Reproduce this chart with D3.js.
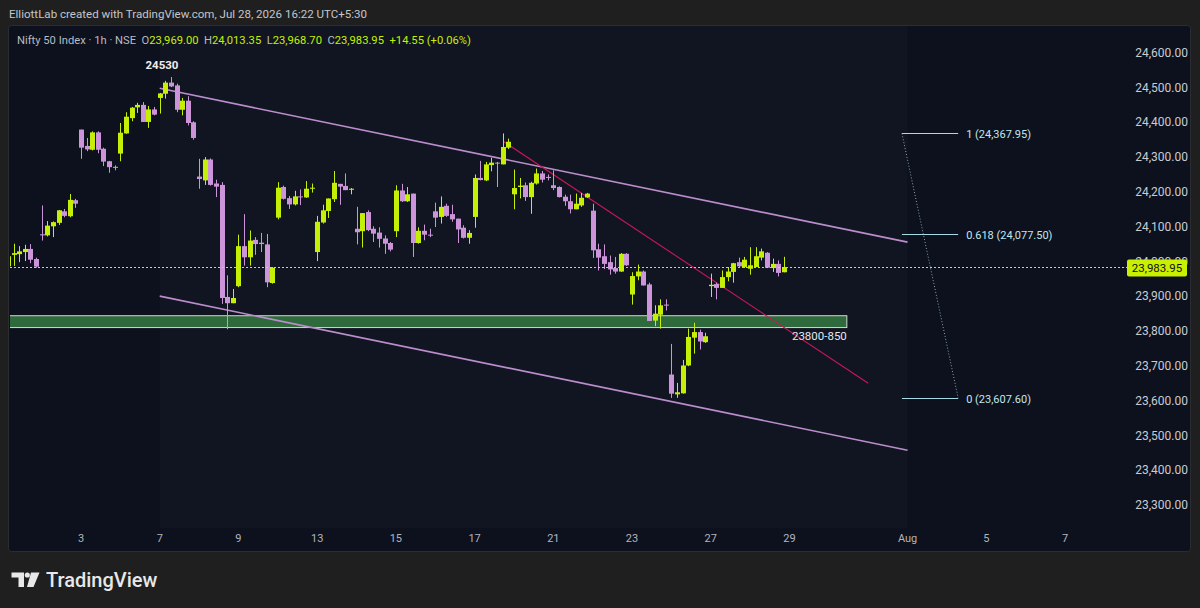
<!DOCTYPE html>
<html><head><meta charset="utf-8">
<script src="https://cdn.jsdelivr.net/npm/d3@7"></script>
<style>html,body{margin:0;padding:0;background:#1f1f1f;overflow:hidden}</style>
</head><body><svg id="c" width="1200" height="608"></svg>
<script>
// ---------- data ----------
const tradingDays = ["Jul 1","Jul 2","Jul 3","Jul 6","Jul 7","Jul 8","Jul 9","Jul 10","Jul 13","Jul 14","Jul 15","Jul 16","Jul 17","Jul 20","Jul 21","Jul 22","Jul 23","Jul 24","Jul 27","Jul 28","Jul 29","Jul 30","Jul 31","Aug 3","Aug 4","Aug 5","Aug 6","Aug 7"];
const barsPerDay = 7;
const tickDayIdx = [2,4,6,8,10,12,14,16,18,20,23,25,27];
const tickLabels = ["3","7","9","13","15","17","21","23","27","29","Aug","5","7"];
const firstBar = 1; // Jul 1, 10:15 bar
const opens = [
 23986,24019,24021,24027,24036,24007,
 24078,24075,24101,24111,24144,24130,24176,
 24379,24332,24321,24371,24324,24288,24272,
 24310,24368,24412,24443,24450,24401,24437,
 24470,24482,24514,24506,24436,24462,24400,
 24244,24233,24293,24224,24220,23898,23880,
 23929,24044,24012,24062,24054,24049,23938,
 24126,24214,24182,24164,24187,24184,24209,
 24027,24112,24145,24179,24223,24217,24206,
 24094,24087,24142,24094,24083,24066,24053,
 24087,24204,24173,24195,24053,24088,24077,
 24144,24128,24160,24136,24123,24097,24068,
 24128,24240,24233,24277,24284,24279,24327,
 24193,24214,24219,24185,24224,24253,24243,
 24219,24214,24186,24173,24150,24161,24184,
 24146,24035,24015,23998,23981,23971,24022,
 23905,23957,23971,23934,23830,23847,23876,
 23675,23618,23621,23701,23781,23797,23768,
 23929,23935,23924,23955,23970,23998,23984,
 23979,23984,24011,24025,23981,23993,23969];
const highs = [
 24020,24051,24044,24048,24050,24011,
 24161,24116,24115,24148,24151,24194,24180,
 24379,24355,24374,24374,24327,24289,24276,
 24398,24429,24444,24456,24458,24447,24444,
 24484,24519,24530,24511,24470,24475,24403,
 24295,24300,24296,24235,24228,23960,23921,
 24077,24136,24089,24070,24082,24079,23984,
 24228,24218,24188,24203,24207,24231,24224,
 24131,24163,24181,24260,24223,24253,24211,
 24157,24139,24147,24101,24098,24075,24056,
 24219,24223,24214,24195,24098,24106,24094,
 24169,24187,24166,24163,24123,24104,24090,
 24250,24289,24286,24298,24286,24367.95,24353,
 24264,24240,24227,24229,24267,24260,24250,
 24262,24216,24192,24192,24195,24197,24197,
 24166,24051,24049,24017,24013,24024,24024,
 23969,23991,23974,23939,23874,23891,23891,
 23763,23651,23717,23807,23824,23804,23795,
 23965,23939,23974,23984,23996,24011,24013,
 24041,24041,24037,24027,24008,24003,24013.35];
const lows = [
 23984,23987,23998,24001,23995,23982,
 24060,24072,24070,24105,24127,24127,24154,
 24295,24317,24319,24311,24274,24255,24262,
 24288,24367,24403,24427,24401,24384,24420,
 24425,24468,24501,24429,24420,24391,24350,
 24209,24220,24218,24185,23878,23805,23880,
 23926,23988,23988,24019,24027,23926,23936,
 24121,24178,24151,24161,24162,24183,24198,
 24001,24109,24125,24171,24163,24205,24193,
 24049,24040,24087,24056,24040,24022,24029,
 24070,24171,24171,24013,24051,24061,24070,
 24099,24109,24128,24114,24053,24066,24051,
 24097,24233,24231,24259,24214,24279,24323,
 24150,24181,24174,24137,24221,24227,24233,
 24205,24184,24160,24138,24150,24157,24183,
 24010,23974,23978,23962,23965,23970,23987,
 23876,23946,23931,23829,23814,23807,23859,
 23607.6,23608,23620,23699,23735,23747,23766,
 23898,23891,23924,23943,23939,23984,23981,
 23962,23984,24003,23981,23970,23957,23968.70];
const closes = [
 24015,24024,24029,24036,24005,23985,
 24075,24103,24113,24147,24131,24177,24166,
 24327,24322,24371,24321,24287,24271,24269,
 24370,24416,24442,24450,24401,24437,24422,
 24483,24514,24503,24436,24462,24398,24355,
 24237,24293,24220,24215,23895,23880,23895,
 24044,24012,24060,24050,24050,23940,23982,
 24212,24180,24164,24187,24185,24209,24212,
 24114,24147,24181,24226,24215,24205,24209,
 24084,24139,24090,24080,24065,24051,24034,
 24204,24173,24193,24053,24088,24077,24075,
 24126,24157,24131,24121,24092,24068,24082,
 24240,24234,24279,24284,24282,24329,24344,
 24211,24218,24185,24226,24253,24235,24240,
 24211,24185,24173,24150,24166,24183,24195,
 24032,24011,23993,23977,23971,24022,23989,
 23958,23971,23931,23829,23850,23874,23873,
 23620,23624,23701,23783,23797,23770,23785,
 23933,23924,23955,23971,23995,23986,24005,
 23989,24015,24029,23982,23993,23967,23983.95];
const priceTicks = d3.range(23300, 24601, 100);
const lastPrice = 23983.95;
const upperChannel = [[28, 24497.6], [161, 24055.6]];
const lowerChannel = [[28, 23900.3], [161, 23457.3]];
const redTrend = [[89.2, 24344], [154.0, 23650]];
const zoneLow = 23810, zoneHigh = 23844, zoneEnd = 150.2, zoneLabel = "23800-850";
const fibHigh = 24367.95, fibLow = 23607.6, fibLevels = [1, 0.618, 0], fibX = [160.0, 170.0];
const peakLabel = "24530", peakPrice = 24530, peakBar = 28.4;
const header1 = "ElliottLab created with TradingView.com, Jul 28, 2026 16:22 UTC+5:30";
const header2 = [["Nifty 50 Index · 1h · NSE  ", 0], ["O", 0], ["23,969.00  ", 1], ["H", 0], ["24,013.35  ", 1], ["L", 0], ["23,968.70  ", 1], ["C", 0], ["23,983.95  ", 1], ["+14.55 (+0.06%)", 1]];

// ---------- drawing ----------
const svg = d3.select("#c");
const W = 1200, H = 608;
const plotL = 10, plotR = 1125, plotT = 26, plotB = 528;
const x = d3.scaleLinear().domain([14, 189]).range([81, 1065]);
const y = d3.scaleLinear().domain([23300, 24600]).range([505, 52.7]);
const UP = "#c6ef08", DOWN = "#cc95d9", TXT = "#b8bbc4", LIME = "#c8f000";
const FONT = "Roboto, 'Noto Sans', sans-serif";

svg.append("rect").attr("width", W).attr("height", H).attr("fill", "#1f1f1f");
svg.append("rect").attr("x", 8.5).attr("y", 25.5).attr("width", 1182).attr("height", 526)
  .attr("rx", 3).attr("fill", "#0c111d").attr("stroke", "#2b2d33");
// subtle highlighted region
svg.append("rect").attr("x", x(28)).attr("y", plotT).attr("width", x(161) - x(28)).attr("height", plotB - plotT)
  .attr("fill", "#ffffff").attr("opacity", 0.018);

const defs = svg.append("defs");
defs.append("clipPath").attr("id", "plot").append("rect")
  .attr("x", plotL).attr("y", plotT).attr("width", plotR - plotL).attr("height", plotB - plotT);
const g = svg.append("g").attr("clip-path", "url(#plot)");

// header
svg.append("text").attr("x", 9).attr("y", 18).attr("fill", "#c4c6cc").attr("font-family", FONT)
  .attr("font-size", 11.55).text(header1);
const h2 = svg.append("text").attr("x", 17).attr("y", 44).attr("font-family", FONT).attr("font-size", 11.2)
  .attr("xml:space", "preserve").style("white-space", "pre");
header2.forEach(([t, c]) => h2.append("tspan").attr("fill", c ? LIME : TXT).text(t));

// green zone
g.append("rect").attr("x", plotL - 2).attr("y", y(zoneHigh)).attr("width", x(zoneEnd) - plotL + 2)
  .attr("height", y(zoneLow) - y(zoneHigh)).attr("fill", "#2e6a3b").attr("stroke", "#d3d8d3").attr("stroke-width", 1);
svg.append("text").attr("x", x(zoneEnd)).attr("y", y(zoneLow) + 12).attr("text-anchor", "end")
  .attr("fill", "#e6e8ee").attr("font-family", FONT).attr("font-size", 11.5).text(zoneLabel);

// channel lines
const line = d3.line().x(d => x(d[0])).y(d => y(d[1]));
[upperChannel, lowerChannel].forEach(ch => g.append("path").attr("d", line(ch)).attr("fill", "none")
  .attr("stroke", "#bb8dcc").attr("stroke-width", 1.6));
g.append("path").attr("d", line(redTrend)).attr("fill", "none").attr("stroke", "#c8175a").attr("stroke-width", 1.1);

// last price dotted
const lpy = Math.round(y(lastPrice)) + 0.5;
svg.append("line").attr("x1", plotL).attr("x2", 1127).attr("y1", lpy).attr("y2", lpy)
  .attr("stroke", LIME).attr("stroke-dasharray", "2,2").attr("stroke-width", 1);

// candles
const bars = opens.map((o, k) => ({i: firstBar + k, o, h: highs[k], l: lows[k], c: closes[k]}));
const cg = g.append("g");
bars.forEach(b => {
  const cx = Math.round(x(b.i));
  const col = b.c >= b.o ? UP : DOWN;
  cg.append("line").attr("x1", cx + 0.5).attr("x2", cx + 0.5).attr("y1", y(b.h)).attr("y2", y(b.l))
    .attr("stroke", col).attr("stroke-width", 1);
  const top = y(Math.max(b.o, b.c)), bot = y(Math.min(b.o, b.c));
  cg.append("rect").attr("x", cx - 2).attr("width", 5).attr("y", top).attr("height", Math.max(1, bot - top)).attr("fill", col);
});

// peak label
svg.append("text").attr("x", x(peakBar)).attr("y", y(peakPrice) - 8).attr("text-anchor", "middle")
  .attr("fill", "#eeeeee").attr("font-family", FONT).attr("font-weight", 700).attr("font-size", 11.5).text(peakLabel);

// fib
const fibPrice = lv => fibLow + (fibHigh - fibLow) * lv;
fibLevels.forEach(lv => {
  const yy = Math.round(y(fibPrice(lv))) + 0.5;
  svg.append("line").attr("x1", x(fibX[0])).attr("x2", x(fibX[1])).attr("y1", yy).attr("y2", yy)
    .attr("stroke", "#a6dbe6").attr("stroke-width", 1);
  svg.append("text").attr("x", x(fibX[1]) + 8).attr("y", yy + 4).attr("fill", "#c2e6ee")
    .attr("font-family", FONT).attr("font-size", 11)
    .text(`${lv} (${d3.format(",.2f")(fibPrice(lv))})`);
});
svg.append("line").attr("x1", x(fibX[0])).attr("y1", y(fibHigh)).attr("x2", x(fibX[1])).attr("y2", y(fibLow))
  .attr("stroke", "#8aa6b0").attr("stroke-dasharray", "1,2").attr("stroke-width", 1);

// price axis
const fmt = d3.format(",.2f");
priceTicks.forEach(p => svg.append("text").attr("x", 1188).attr("y", y(p)).attr("dy", "0.35em")
  .attr("text-anchor", "end").attr("fill", "#c9ccd3").attr("font-family", FONT).attr("font-size", 12).text(fmt(p)));
// last price tag (partly covers the 24,000.00 label, as in the original)
const ly = y(lastPrice);
svg.append("rect").attr("x", 1127).attr("y", ly - 7.5).attr("width", 60).attr("height", 17).attr("rx", 2).attr("fill", LIME);
svg.append("text").attr("x", 1157).attr("y", ly + 1).attr("dy", "0.35em").attr("text-anchor", "middle")
  .attr("fill", "#111").attr("font-family", FONT).attr("font-size", 11.5).text(fmt(lastPrice));

// time axis
tickDayIdx.forEach((d, k) => svg.append("text").attr("x", x(d * barsPerDay)).attr("y", 538).attr("dy", "0.35em")
  .attr("text-anchor", "middle").attr("fill", "#b2b5be").attr("font-family", FONT).attr("font-size", 11).text(tickLabels[k]));

// TradingView logo
const lg = svg.append("g").attr("fill", "#e8e8e8");
lg.append("path").attr("d", "M11.5,572.5 H24 V587 H18.5 V577.5 H11.5 Z");
lg.append("circle").attr("cx", 27.3).attr("cy", 575).attr("r", 2.6);
lg.append("path").attr("d", "M31,572.5 H39.5 L33.5,587 H27 Z");
svg.append("text").attr("x", 46).attr("y", 587).attr("fill", "#e8e8e8").attr("font-family", FONT)
  .attr("font-weight", 500).attr("font-size", 20).text("TradingView");
</script></body></html>
